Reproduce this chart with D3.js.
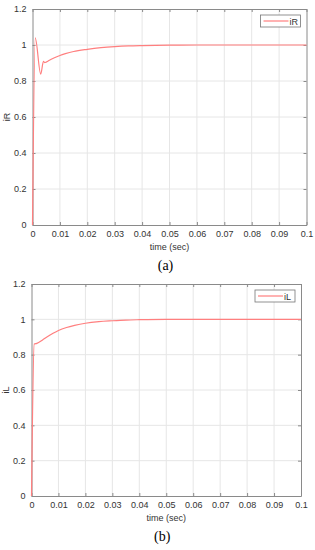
<!DOCTYPE html>
<html>
<head>
<meta charset="utf-8">
<script src="https://cdnjs.cloudflare.com/ajax/libs/d3/7.8.5/d3.min.js"></script>
<style>
  body { margin: 0; background: #fff; }
  svg { display: block; }
</style>
</head>
<body>
<div id="chart"></div>
<script>
// x ticks and y ticks shared by both panels
let xTicks = [0, 0.01, 0.02, 0.03, 0.04, 0.05, 0.06, 0.07, 0.08, 0.09, 0.1];
let yTicks = [0, 0.2, 0.4, 0.6, 0.8, 1, 1.2];

// iR (panel a)
let timeR = [0, 0.001, 0.003, 0.004, 0.0045, 0.005, 0.006, 0.008, 0.01, 0.012, 0.015, 0.02, 0.025, 0.03, 0.035, 0.04, 0.05, 0.06, 0.1];
let iR    = [0, 1.04, 0.838, 0.909, 0.902, 0.905, 0.914, 0.929, 0.942, 0.952, 0.964, 0.976, 0.985, 0.991, 0.995, 0.997, 0.999, 1.0, 1.0];

// iL (panel b)
let timeL = [0, 0.001, 0.002, 0.004, 0.006, 0.008, 0.01, 0.013, 0.016, 0.02, 0.025, 0.03, 0.035, 0.04, 0.05, 0.06, 0.1];
let iL    = [0, 0.86, 0.864, 0.882, 0.903, 0.921, 0.937, 0.954, 0.966, 0.978, 0.987, 0.992, 0.996, 0.998, 1.0, 1.0, 1.0];

let svg = d3.select('#chart').append('svg')
    .attr('width', 315)
    .attr('height', 550);

let font = 'Liberation Sans, Arial, sans-serif',
    axisCol = '#8a8a8a',
    textCol = '#333',
    lineCol = '#ff7f7f';

let drawPanel = (cfg) => {
    let x = d3.scaleLinear().domain([0, 0.1]).range([cfg.left, cfg.right]);
    let y = d3.scaleLinear().domain([0, 1.2]).range([cfg.bottom, cfg.top]);
    let g = svg.append('g');

    // grid
    g.selectAll('line.gx').data(xTicks.slice(1, -1)).enter().append('line')
        .attr('x1', d => x(d)).attr('x2', d => x(d))
        .attr('y1', cfg.top).attr('y2', cfg.bottom)
        .style('stroke', '#e6e6e6').style('stroke-width', '1px');
    g.selectAll('line.gy').data(yTicks.slice(1, -1)).enter().append('line')
        .attr('y1', d => y(d)).attr('y2', d => y(d))
        .attr('x1', cfg.left).attr('x2', cfg.right)
        .style('stroke', '#e6e6e6').style('stroke-width', '1px');

    // axes (ticks inward, box on all sides)
    let ax = [
        [d3.axisBottom(x).tickValues(xTicks).tickSizeInner(-3).tickSizeOuter(0).tickPadding(6).tickFormat(d => d === 0 ? '0' : d3.format('.2~f')(d)), 'translate(0,' + cfg.bottom + ')'],
        [d3.axisTop(x).tickValues(xTicks).tickSizeInner(-3).tickSizeOuter(0).tickFormat(''), 'translate(0,' + cfg.top + ')'],
        [d3.axisLeft(y).tickValues(yTicks).tickSizeInner(-3).tickSizeOuter(0).tickPadding(6).tickFormat(d => d3.format('~g')(d)), 'translate(' + cfg.left + ',0)'],
        [d3.axisRight(y).tickValues(yTicks).tickSizeInner(-3).tickSizeOuter(0).tickFormat(''), 'translate(' + cfg.right + ',0)']
    ];
    ax.forEach(a => {
        let s = g.append('g').attr('transform', a[1]).call(a[0]);
        s.select('.domain').style('stroke', axisCol);
        s.selectAll('.tick line').style('stroke', axisCol);
        s.selectAll('text').style('font-family', font).style('font-size', '9px').style('fill', textCol);
    });

    // curve
    let pts = cfg.t.map((t, i) => [t, cfg.v[i]]);
    g.append('path').datum(pts)
        .attr('d', d3.line().x(d => x(d[0])).y(d => y(d[1])).curve(d3.curveMonotoneX))
        .style('fill', 'none').style('stroke', lineCol).style('stroke-width', '1.2px');

    // axis labels
    g.append('text').attr('x', (cfg.left + cfg.right) / 2).attr('y', cfg.bottom + 25)
        .attr('text-anchor', 'middle').style('font-family', font).style('font-size', '9px').style('fill', textCol)
        .text('time (sec)');
    g.append('text')
        .attr('transform', 'translate(' + (cfg.left - 23) + ',' + ((cfg.top + cfg.bottom) / 2) + ') rotate(-90)')
        .attr('text-anchor', 'middle').style('font-family', font).style('font-size', '9px').style('fill', textCol)
        .text(cfg.name);

    // legend
    let lx = cfg.right - 46, ly = cfg.top + 6;
    g.append('rect').attr('x', lx).attr('y', ly).attr('width', 40).attr('height', 12)
        .style('fill', '#fff').style('stroke', '#777').style('stroke-width', '0.8px');
    g.append('line').attr('x1', lx + 3).attr('x2', lx + 28).attr('y1', ly + 6).attr('y2', ly + 6)
        .style('stroke', lineCol).style('stroke-width', '1.2px');
    g.append('text').attr('x', lx + 29).attr('y', ly + 9.5)
        .style('font-family', font).style('font-size', '9px').style('fill', textCol)
        .text(cfg.name);

    // caption
    g.append('text').attr('x', (cfg.left + cfg.right) / 2 - 4).attr('y', cfg.bottom + 45)
        .attr('text-anchor', 'middle').style('font-family', 'Liberation Serif, Times New Roman, serif')
        .style('font-size', '14px').style('fill', '#000')
        .text(cfg.caption);
};

drawPanel({left: 32.5, right: 306.5, top: 9, bottom: 225, t: timeR, v: iR, name: 'iR', caption: '(a)'});
drawPanel({left: 31.5, right: 301, top: 284, bottom: 496, t: timeL, v: iL, name: 'iL', caption: '(b)'});
</script>
</body>
</html>
